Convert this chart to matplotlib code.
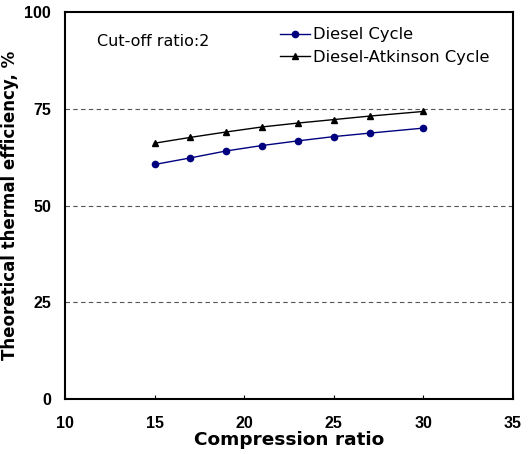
import matplotlib
matplotlib.use("Agg")
import matplotlib.pyplot as plt

plt.rcParams['font.family'] = ['Liberation Sans', 'DejaVu Sans']

compression = [15, 17, 19, 21, 23, 25, 27, 30]
diesel = [60.6, 62.3, 64.1, 65.5, 66.7, 67.8, 68.7, 70.0]
atkinson = [66.1, 67.6, 69.0, 70.3, 71.3, 72.2, 73.1, 74.3]

x_ticks = [10, 15, 20, 25, 30, 35]
y_ticks = [0, 25, 50, 75, 100]

fig = plt.figure(figsize=(5.31, 4.54), dpi=100)
ax = fig.add_axes([0.1224, 0.1211, 0.8436, 0.8525])

for yv in [25, 50, 75]:
    ax.axhline(yv, color='#555555', linestyle=(0, (4, 3)), linewidth=0.8, zorder=1)

ax.plot(compression, diesel, color='#00007f', marker='o', markersize=4.5,
        linewidth=1.0, label='Diesel Cycle', zorder=3)
ax.plot(compression, atkinson, color='black', marker='^', markersize=5,
        linewidth=1.0, label='Diesel-Atkinson Cycle', zorder=3)

ax.set_xlim(10, 35)
ax.set_ylim(0, 100)
ax.set_xticks(x_ticks)
ax.set_yticks(y_ticks)
ax.set_xticklabels([str(t) for t in x_ticks], fontweight='bold', fontsize=11.5)
ax.set_yticklabels([str(t) for t in y_ticks], fontweight='bold', fontsize=11.5)
ax.tick_params(axis='x', direction='in', length=3, width=0.8, pad=12)
ax.tick_params(axis='y', length=0, pad=10)
for s in ax.spines.values():
    s.set_linewidth(1.5)

ax.set_xlabel('Compression ratio', fontweight='bold', fontsize=13.3, labelpad=0,
              family='DejaVu Sans')
ax.set_ylabel('Theoretical thermal efficiency, %', fontweight='bold', fontsize=12,
              labelpad=4, family='DejaVu Sans')

ax.text(0.071, 0.925, 'Cut-off ratio:2', transform=ax.transAxes, fontsize=11.5,
        va='center', ha='left', family='DejaVu Sans')
leg = ax.legend(loc='upper left', bbox_to_anchor=(0.48, 0.96), frameon=False,
                prop={'family': 'DejaVu Sans', 'size': 11.8}, handlelength=1.8,
                handletextpad=0.2, labelspacing=0.45, borderpad=0, borderaxespad=0)

fig.savefig('out.png', dpi=100)
